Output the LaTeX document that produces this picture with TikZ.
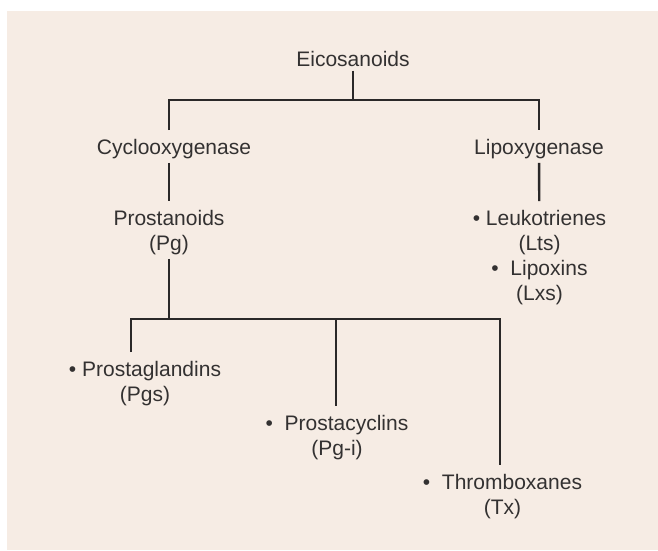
\documentclass[tikz,border=0pt]{standalone}
\usepackage{fontspec}
\setmainfont{Liberation Sans}
\definecolor{paper}{HTML}{F6ECE4}
\definecolor{ink}{HTML}{333131}
\definecolor{wire}{HTML}{2A2828}
\tikzset{
  term/.style={text=ink,inner sep=0pt,outer sep=4pt,align=center},
  link/.style={draw=wire,line width=2.4pt},
  drop/.style={shorten >=5pt}
}

\begin{document}
\begin{tikzpicture}[x=1pt,y=-1pt,font=\fontsize{21}{25}\selectfont]
\useasboundingbox (0,0) rectangle (658,550);
\fill[paper] (7,11) rectangle (658,550);
% terms
\node[term] (eico) at (353,59) {Eicosanoids};
\node[term] (cox) at (174,149) {Cyclooxygenase};
\node[term] (lox) at (539,149) {Lipoxygenase};
\node[term] (pg) at (169,232.5) {Prostanoids\\(Pg)};
\node[term] (lt) at (539.5,257.5) {\textbullet\ Leukotrienes\\(Lts)\\\textbullet\ \ Lipoxins\\(Lxs)};
\node[term] (pgs) at (145,383.5) {\textbullet\ Prostaglandins\\(Pgs)};
\node[term] (pgi) at (337,437.5) {\textbullet\ \ Prostacyclins\\(Pg-i)};
\node[term] (tx) at (502.5,496.5) {\textbullet\ \ Thromboxanes\\(Tx)};
% junctions
\coordinate (fork) at (353,100);
\coordinate (bus) at (169,319);
\coordinate (tap1) at (131,319);
\coordinate (tap2) at (336,319);
\coordinate (tap3) at (500,319);
% tree
\draw[link] (eico) -- (fork);
\draw[link,shorten <=5pt,drop] (cox.north -| bus) |- (fork) -| (lox);
\draw[link,drop] (cox.south -| bus) -- (pg);
\draw[link,drop] (lox) -- (lt);
\draw[link] (pg) -- (bus);
\draw[link,shorten <=5pt,drop] (tap1 |- pgs.north) -- (tap1) -- (tap3) -- (tap3 |- tx.north);
\draw[link,drop] (tap2) -- (tap2 |- pgi.north);
\end{tikzpicture}
\end{document}
